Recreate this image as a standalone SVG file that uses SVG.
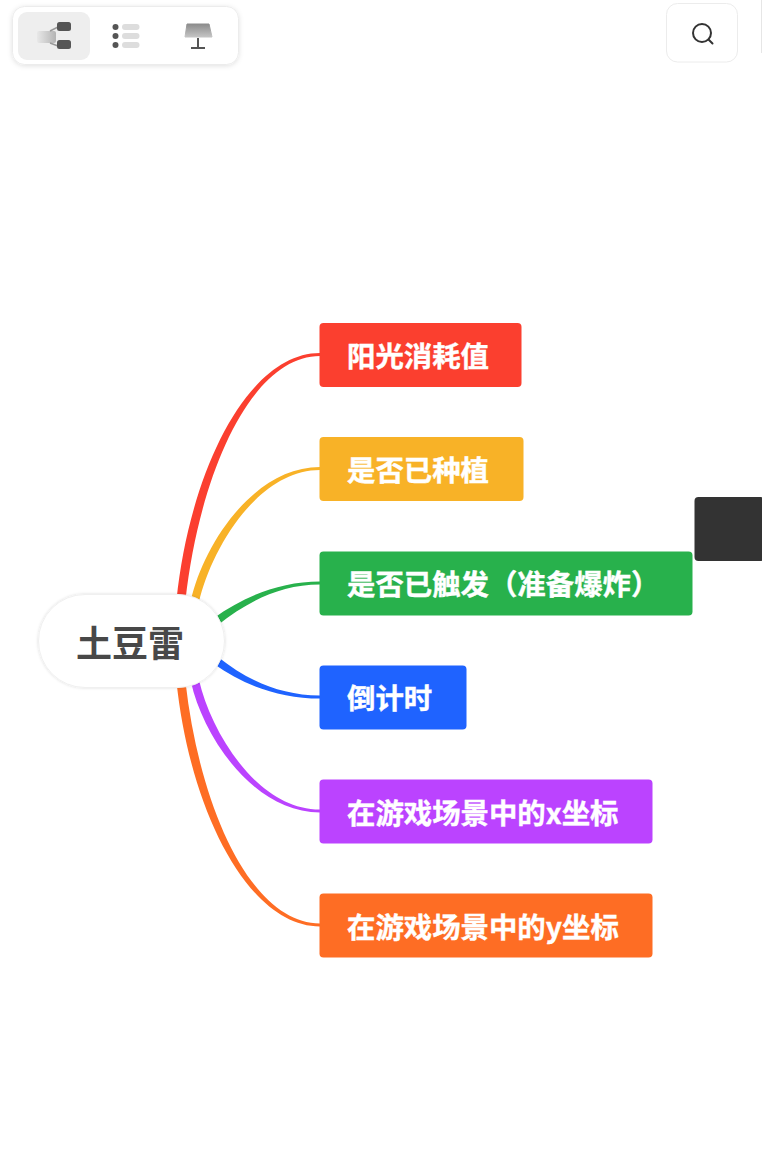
<svg xmlns="http://www.w3.org/2000/svg" width="762" height="1149" viewBox="0 0 762 1149">
<style>
.lbl{font-family:"Noto Sans CJK SC","Liberation Sans",sans-serif;font-weight:700;font-size:28.4px;fill:#fff;stroke:#fff;stroke-width:.4px}
.root{font-family:"Noto Sans CJK SC","Liberation Sans",sans-serif;font-weight:700;font-size:36px;fill:#484848}
.bx{stroke:none}
</style>
<defs>
<linearGradient id="g1" x1="0" y1="0" x2="1" y2="0"><stop offset="0" stop-color="#e8e8e8"/><stop offset="1" stop-color="#b4b4b4"/></linearGradient>
<linearGradient id="g2" x1="0" y1="0" x2="0" y2="1"><stop offset="0" stop-color="#8c8c8c"/><stop offset="1" stop-color="#c4c4c4"/></linearGradient>
<filter id="sh" x="-10%" y="-20%" width="120%" height="150%"><feDropShadow dx="0" dy="1" stdDeviation="2.5" flood-color="#000" flood-opacity=".12"/></filter>
<filter id="rs" x="-10%" y="-20%" width="120%" height="140%"><feDropShadow dx="0" dy="0" stdDeviation="1.500" flood-color="#000" flood-opacity=".14"/></filter>
</defs>
<rect width="762" height="1149" fill="#fff"/>
<g id="toolbar">
<rect x="12.5" y="6.5" width="226" height="58" rx="12" fill="#fff" stroke="#ececec" filter="url(#sh)"/>
<rect x="18" y="12" width="72" height="48" rx="9" fill="#eee"/>
<rect x="37" y="31" width="19" height="12" rx="2" fill="url(#g1)"/>
<path d="M50 31L58 27M50 43L58 46" stroke="#999" stroke-width="1.5" fill="none"/>
<rect x="57" y="22" width="14" height="9" rx="2.5" fill="#555"/>
<rect x="57" y="40" width="14" height="9" rx="2.5" fill="#555"/>
<circle cx="115.500" cy="27" r="3" fill="#555"/><circle cx="115.500" cy="36" r="3" fill="#555"/><circle cx="115.500" cy="45" r="3" fill="#555"/>
<rect x="122" y="24" width="17.500" height="6" rx="3" fill="#ddd"/><rect x="122" y="33" width="17.500" height="6" rx="3" fill="#ddd"/><rect x="122" y="42" width="17.500" height="6" rx="3" fill="#ddd"/>
<path d="M187 24H209L212 37H185Z" fill="url(#g2)" stroke="url(#g2)" stroke-linejoin="round"/>
<path d="M198 38V47M191 48H205" stroke="#555" stroke-width="2" fill="none"/>
</g>
<g id="search">
<rect x="666.500" y="3.500" width="71" height="58.500" rx="11" fill="#fff" stroke="#ececec"/>
<circle cx="702" cy="33" r="9" fill="none" stroke="#333" stroke-width="2"/>
<path d="M708.500 39.500L712.500 43.500" stroke="#333" stroke-width="2" stroke-linecap="round"/>
</g>
<rect x="761" y="0" width="1" height="53" fill="#e6e6e6"/>
<g id="connectors">
<path d="M176.500 600C190 470 248 353 320 353V356C252 356 200 471 185.500 600Z" fill="#fb3f2f"/>
<path d="M191 600C203 546 253 467 320 467V470C257 470 211 550 199 602Z" fill="#f8b227"/>
<path d="M214 618C243 597 280 581.500 320 581.500V584.500C280 584.500 247 602 218 625Z" fill="#28b14c"/>
<path d="M214 664C243 685 280 698.500 320 698.500V695.500C280 695.500 247 680 218 657Z" fill="#1f63ff"/>
<path d="M191 682C203 736 253 812.500 320 812.500V809.500C257 809.500 211 732 199 680Z" fill="#bb43ff"/>
<path d="M176.500 682C190 810 248 926.500 320 926.500V923.500C252 923.500 200 810 185.500 682Z" fill="#fe6d24"/>
</g>
<g id="root">
<rect x="38.500" y="594.500" width="186" height="93" rx="46.500" fill="#fff" stroke="#f0f0f0" filter="url(#rs)"/>
<text class="root" x="130" y="657" text-anchor="middle">土豆雷</text>
</g>
<g id="n1"><rect class="bx" x="319.500" y="323" width="202" height="64" rx="4" fill="#fb3f2f"/><text class="lbl" x="347" y="367">阳光消耗值</text></g>
<g id="n2"><rect class="bx" x="319.500" y="437" width="204" height="64" rx="4" fill="#f8b227"/><text class="lbl" x="347" y="481">是否已种植</text></g>
<g id="n3"><rect class="bx" x="319.500" y="551.500" width="373" height="64" rx="4" fill="#28b14c"/><text class="lbl" x="347" y="595">是否已触发（准备爆炸）</text></g>
<g id="n4"><rect class="bx" x="319.500" y="665.500" width="147" height="64" rx="4" fill="#1f63ff"/><text class="lbl" x="347" y="709">倒计时</text></g>
<g id="n5"><rect class="bx" x="319.500" y="779.500" width="333" height="64" rx="4" fill="#bb43ff"/><text class="lbl" x="347" y="824">在游戏场景中的x坐标</text></g>
<g id="n6"><rect class="bx" x="319.500" y="893.500" width="333" height="64" rx="4" fill="#fe6d24"/><text class="lbl" x="347" y="938">在游戏场景中的y坐标</text></g>
<rect id="dark-panel" x="694.500" y="497" width="70" height="64" rx="4" fill="#333"/>
</svg>
